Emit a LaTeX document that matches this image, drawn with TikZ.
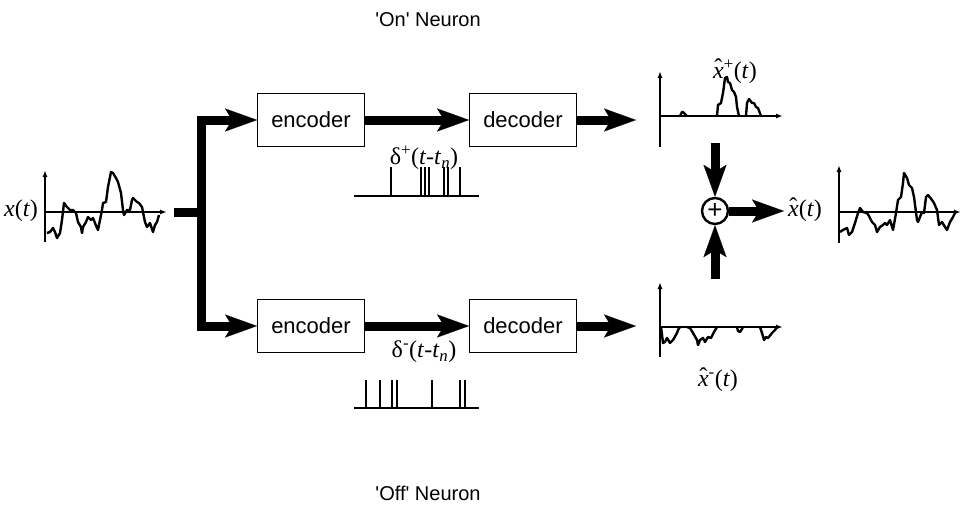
\documentclass[tikz,border=0pt]{standalone}
\usepackage{fontspec}
\setmainfont{Liberation Sans}
\newfontfamily\tnr{Liberation Serif}
\usetikzlibrary{arrows.meta}
\newcommand\hx{\ooalign{\textit{x}\cr\hidewidth\raisebox{0.25ex}{\char"02C6}\hidewidth\cr}}

\begin{document}
\begin{tikzpicture}[x=1pt,y=-1pt,
  box/.style={draw,line width=0.9pt,minimum width=107pt,minimum height=53pt,font=\fontsize{22}{24}\selectfont},
  fat/.style={line width=9pt},
  fatarrow/.style={line width=9pt,-{Stealth[length=32pt,width=23pt,inset=7pt,line width=0.1pt]}},
  axis/.style={line width=1.8pt,-{Latex[length=7pt,width=5pt]}},
  sig/.style={line width=2.4pt,line join=round},
  spike/.style={line width=2pt},
  lbl/.style={font=\tnr\fontsize{24}{26}\selectfont},
  title/.style={font=\fontsize{20}{22}\selectfont}]
  \useasboundingbox (0,0) rectangle (963,506);

  \node[title] (on) at (428,20) {\textquotesingle On\textquotesingle\ Neuron};
  \node[title] (off) at (428,493) {\textquotesingle Off\textquotesingle\ Neuron};

  \node[box] (enc1) at (311,120) {encoder};
  \node[box] (dec1) at (523,120) {decoder};
  \node[box] (enc2) at (311,326) {encoder};
  \node[box] (dec2) at (523,326) {decoder};
  \node[draw,circle,line width=2.4pt,minimum size=26pt,inner sep=0pt] (sum) at (715,211) {\fontsize{26}{26}\selectfont +};

  \coordinate (stub) at (174,212);
  \coordinate (split) at (201,212);
  \coordinate (p1) at (636,120);
  \coordinate (p2) at (636,326);
  \coordinate (in1) at (715,143);
  \coordinate (in2) at (715,279);
  \coordinate (out) at (784,211);

  % input branch
  \draw[fat] (stub) -- (split);
  \draw[fatarrow] (split) |- (enc1.west);
  \draw[fatarrow] (split) |- (enc2.west);
  \draw[fatarrow] (enc1) -- (dec1);
  \draw[fatarrow] (enc2) -- (dec2);
  \draw[fatarrow] (dec1) -- (p1);
  \draw[fatarrow] (dec2) -- (p2);
  \draw[fatarrow] (in1) -- (sum.north);
  \draw[fatarrow] (in2) -- (sum.south);
  \draw[fatarrow] (sum) -- (out);

  \node[lbl] (d1) at (424,158) {δ\textsuperscript{+}(\textit{t}-\textit{t}\textsubscript{\textit{n}})};
  \node[lbl] (d2) at (424,352) {δ\textsuperscript{-}(\textit{t}-\textit{t}\textsubscript{\textit{n}})};

  % spike trains
  \draw[spike] (354,196) -- (479,196);
  \foreach \s in {391,421,425,429,444,448,460}
    \draw[spike] (\s,196) -- (\s,167);
  \draw[spike] (354,408) -- (479,408);
  \foreach \s in {366,380,392,397,432,460,465}
    \draw[spike] (\s,408) -- (\s,380);

  % x(t)
  \node[lbl] (xin) at (21,211) {\textit{x}(\textit{t})};
  \draw[axis] (45,242) -- (45,170);
  \draw[axis] (45,212) -- (167,212);
  \draw[sig] (47,233) -- (50,232) -- (53,228) -- (55,232) -- (57,238) -- (60,233) -- (62,220) -- (64,203)
    -- (67,207) -- (70,210) -- (73,210) -- (76,213) -- (78,222) -- (81,227) -- (82,233) -- (83,227)
    -- (86,222) -- (88,217) -- (91,220) -- (93,218) -- (97,228) -- (98,230) -- (100,220) -- (102,210)
    -- (103,203) -- (106,202) -- (108,187) -- (111,172) -- (113,173) -- (116,178) -- (118,182)
    -- (121,193) -- (123,210) -- (124,215) -- (127,210) -- (130,210) -- (132,200) -- (133,198)
    -- (137,202) -- (139,203) -- (142,207) -- (145,222) -- (147,227) -- (150,223) -- (153,232)
    -- (155,225) -- (157,222) -- (159,215);

  % x+ estimate
  \node[lbl] (xp) at (735,72) {\hx\textsuperscript{+}(\textit{t})};
  \draw[axis] (660,147) -- (660,71);
  \draw[axis] (660,116) -- (783,116);
  \draw[sig] (680,116) -- (682,112) -- (683,112) -- (686,115) -- (687,116);
  \draw[sig] (717,116) -- (718,105) -- (721,103) -- (723,93) -- (725,78) -- (727,77) -- (728,82)
    -- (730,83) -- (732,90) -- (734,92) -- (736,97) -- (737,107) -- (739,116);
  \draw[sig] (746,116) -- (747,103) -- (749,99) -- (752,103) -- (754,103) -- (756,107) -- (758,108) -- (761,116);

  % x- estimate
  \node[lbl] (xm) at (718,381) {\hx\textsuperscript{-}(\textit{t})};
  \draw[axis] (660,357) -- (660,282);
  \draw[axis] (660,327) -- (783,327);
  \draw[sig] (661,327) -- (662,335) -- (663,343) -- (665,342) -- (667,338) -- (670,343) -- (673,340)
    -- (677,333) -- (678,330) -- (680,327);
  \draw[sig] (687,327) -- (690,328) -- (693,333) -- (697,340) -- (698,345) -- (700,340) -- (703,338)
    -- (705,342) -- (708,337) -- (711,338) -- (714,332) -- (717,327);
  \draw[sig] (737,327) -- (738,331) -- (740,332) -- (742,329) -- (743,327);
  \draw[sig] (760,327) -- (762,333) -- (764,340) -- (766,337) -- (768,338) -- (772,333) -- (775,330) -- (777,327);

  % output
  \node[lbl] (xout) at (805,211) {\hx(\textit{t})};
  \draw[axis] (839,243) -- (839,165);
  \draw[axis] (839,212) -- (961,212);
  \draw[sig] (840,232) -- (843,230) -- (847,228) -- (849,235) -- (852,232) -- (855,223) -- (858,213)
    -- (860,208) -- (863,212) -- (867,213) -- (869,216) -- (872,222) -- (875,225) -- (877,232)
    -- (880,227) -- (883,225) -- (885,223) -- (887,225) -- (890,220) -- (893,230) -- (896,213)
    -- (898,200) -- (901,197) -- (903,183) -- (904,173) -- (907,178) -- (909,185) -- (912,188)
    -- (914,197) -- (917,220) -- (918,222) -- (922,212) -- (924,213) -- (926,197) -- (928,195)
    -- (932,200) -- (934,203) -- (937,210) -- (939,225) -- (942,222) -- (945,227) -- (947,230)
    -- (950,222) -- (953,217) -- (955,213);
\end{tikzpicture}
\end{document}
